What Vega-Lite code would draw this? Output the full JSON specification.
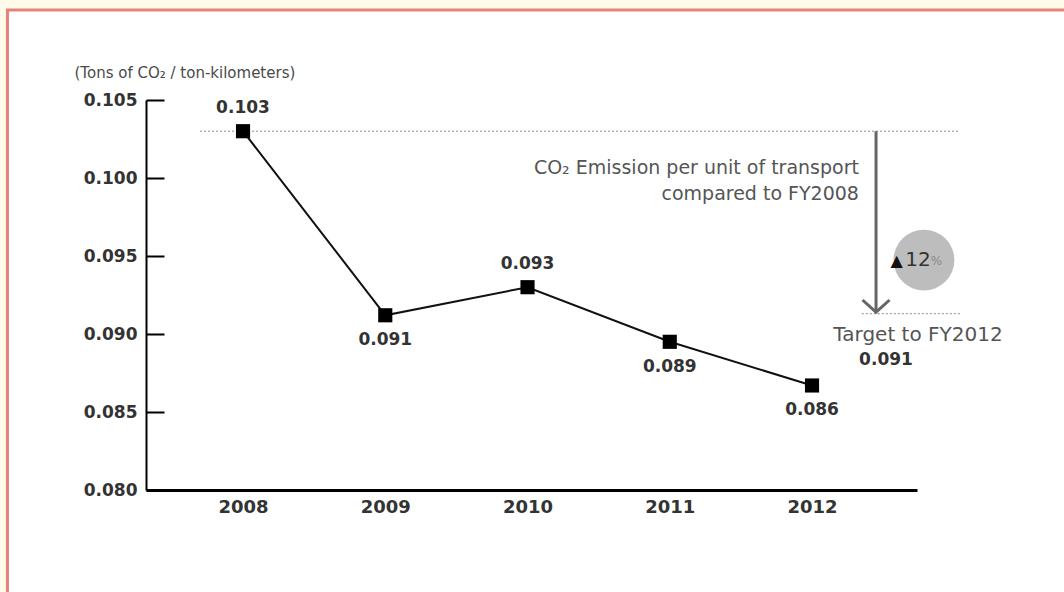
{
  "$schema": "https://vega.github.io/schema/vega-lite/v6.json",
  "width": 771,
  "height": 390,
  "autosize": {"type": "none"},
  "padding": {"left": 146, "top": 100, "right": 147, "bottom": 102},
  "background": "#fffbea",
  "config": {
    "view": {"stroke": null},
    "font": "DejaVu Sans"
  },
  "layer": [
    {
      "data": {"values": [{}]},
      "mark": {"type": "rect", "fill": "white", "stroke": "#e8817a", "strokeWidth": 3, "clip": false},
      "encoding": {
        "x": {"datum": 2006.344, "type": "quantitative"},
        "x2": {"datum": 2015.5},
        "y": {"datum": 0.11077, "type": "quantitative"},
        "y2": {"datum": 0.06}
      }
    },
    {
      "data": {"values": [{}]},
      "mark": {"type": "rule", "stroke": "#888888", "strokeWidth": 1, "strokeDash": [2, 2]},
      "encoding": {
        "x": {"datum": 2007.698, "type": "quantitative"},
        "x2": {"datum": 2013.04},
        "y": {"datum": 0.103, "type": "quantitative"}
      }
    },
    {
      "data": {"values": [{}]},
      "mark": {"type": "rule", "stroke": "#888888", "strokeWidth": 1, "strokeDash": [2, 2]},
      "encoding": {
        "x": {"datum": 2012.35, "type": "quantitative"},
        "x2": {"datum": 2013.04},
        "y": {"datum": 0.0913, "type": "quantitative"}
      }
    },
    {
      "data": {"values": [{}]},
      "mark": {"type": "rule", "stroke": "#666666", "strokeWidth": 3},
      "encoding": {
        "x": {"datum": 2012.45, "type": "quantitative"},
        "y": {"datum": 0.103, "type": "quantitative"},
        "y2": {"datum": 0.0914}
      }
    },
    {
      "data": {"values": [{}]},
      "mark": {"type": "point", "shape": "M-1,-0.9L0,0L1,-0.9", "filled": false, "stroke": "#666666", "strokeWidth": 3, "size": 729, "opacity": 1},
      "encoding": {
        "x": {"datum": 2012.45, "type": "quantitative"},
        "y": {"datum": 0.0914, "type": "quantitative"}
      }
    },
    {
      "data": {"values": [{}]},
      "mark": {"type": "circle", "fill": "#bdbdbd", "size": 3700, "opacity": 1},
      "encoding": {
        "x": {"datum": 2012.787, "type": "quantitative"},
        "y": {"datum": 0.09474, "type": "quantitative"}
      }
    },
    {
      "data": {"values": [{}]},
      "mark": {"type": "text", "text": "▲", "fontSize": 16, "color": "#111111", "align": "center", "baseline": "middle"},
      "encoding": {
        "x": {"datum": 2012.595, "type": "quantitative"},
        "y": {"datum": 0.0947, "type": "quantitative"}
      }
    },
    {
      "data": {"values": [{}]},
      "mark": {"type": "text", "text": "12", "fontSize": 20, "color": "#333333", "align": "center", "baseline": "middle"},
      "encoding": {
        "x": {"datum": 2012.745, "type": "quantitative"},
        "y": {"datum": 0.09476, "type": "quantitative"}
      }
    },
    {
      "data": {"values": [{}]},
      "mark": {"type": "text", "text": "%", "fontSize": 12, "color": "#888888", "align": "left", "baseline": "middle"},
      "encoding": {
        "x": {"datum": 2012.835, "type": "quantitative"},
        "y": {"datum": 0.0947, "type": "quantitative"}
      }
    },
    {
      "data": {"values": [{}]},
      "mark": {"type": "text", "text": ["CO₂ Emission per unit of transport", "compared to FY2008"], "fontSize": 19, "color": "#555555", "align": "right", "baseline": "middle", "lineHeight": 26},
      "encoding": {
        "x": {"datum": 2012.33, "type": "quantitative"},
        "y": {"datum": 0.10064, "type": "quantitative"}
      }
    },
    {
      "data": {"values": [{}]},
      "mark": {"type": "text", "text": "Target to FY2012", "fontSize": 20, "color": "#555555", "align": "center", "baseline": "middle"},
      "encoding": {
        "x": {"datum": 2012.745, "type": "quantitative"},
        "y": {"datum": 0.08994, "type": "quantitative"}
      }
    },
    {
      "data": {"values": [{}]},
      "mark": {"type": "text", "text": "0.091", "fontSize": 17, "fontWeight": "bold", "color": "#333333", "align": "center", "baseline": "middle"},
      "encoding": {
        "x": {"datum": 2012.52, "type": "quantitative"},
        "y": {"datum": 0.08833, "type": "quantitative"}
      }
    },
    {
      "data": {
        "values": [
          {"year": 2008, "value": 0.103, "label": "0.103"},
          {"year": 2009, "value": 0.0912, "label": "0.091"},
          {"year": 2010, "value": 0.093, "label": "0.093"},
          {"year": 2011, "value": 0.0895, "label": "0.089"},
          {"year": 2012, "value": 0.0867, "label": "0.086"}
        ]
      },
      "encoding": {
        "x": {
          "field": "year",
          "type": "quantitative",
          "scale": {"domain": [2007.318, 2012.738], "nice": false, "zero": false},
          "axis": {
            "zindex": 1,
            "values": [2008, 2009, 2010, 2011, 2012],
            "format": "d",
            "title": null,
            "grid": false,
            "ticks": false,
            "domainColor": "#000000",
            "domainWidth": 3,
            "labelFont": "DejaVu Sans",
            "labelFontSize": 18,
            "labelFontWeight": "bold",
            "labelColor": "#333333",
            "labelPadding": 8
          }
        },
        "y": {
          "field": "value",
          "type": "quantitative",
          "scale": {"domain": [0.08, 0.105], "nice": false, "zero": false},
          "axis": {
            "zindex": 1,
            "values": [0.08, 0.085, 0.09, 0.095, 0.1, 0.105],
            "format": ".3f",
            "title": "(Tons of CO₂ / ton-kilometers)",
            "titleAngle": 0,
            "titleAlign": "left",
            "titleBaseline": "middle",
            "titleX": -72,
            "titleY": -28,
            "titleFont": "DejaVu Sans",
            "titleFontSize": 15,
            "titleFontWeight": "normal",
            "titleColor": "#4a4a4a",
            "grid": false,
            "domainColor": "#000000",
            "domainWidth": 2,
            "tickColor": "#000000",
            "tickWidth": 2,
            "tickSize": -18,
            "labelFont": "DejaVu Sans",
            "labelFontSize": 17,
            "labelFontWeight": "bold",
            "labelColor": "#333333",
            "labelPadding": 27
          }
        }
      },
      "layer": [
        {"mark": {"type": "line", "color": "#111111", "strokeWidth": 2}},
        {"mark": {"type": "square", "color": "#000000", "size": 200, "opacity": 1, "filled": true}},
        {
          "transform": [{"filter": {"field": "year", "oneOf": [2008, 2010]}}],
          "mark": {"type": "text", "fontSize": 17, "fontWeight": "bold", "color": "#333333", "dy": -23, "baseline": "middle"},
          "encoding": {"text": {"field": "label"}}
        },
        {
          "transform": [{"filter": {"field": "year", "oneOf": [2009, 2011, 2012]}}],
          "mark": {"type": "text", "fontSize": 17, "fontWeight": "bold", "color": "#333333", "dy": 25, "baseline": "middle"},
          "encoding": {"text": {"field": "label"}}
        }
      ]
    }
  ]
}
